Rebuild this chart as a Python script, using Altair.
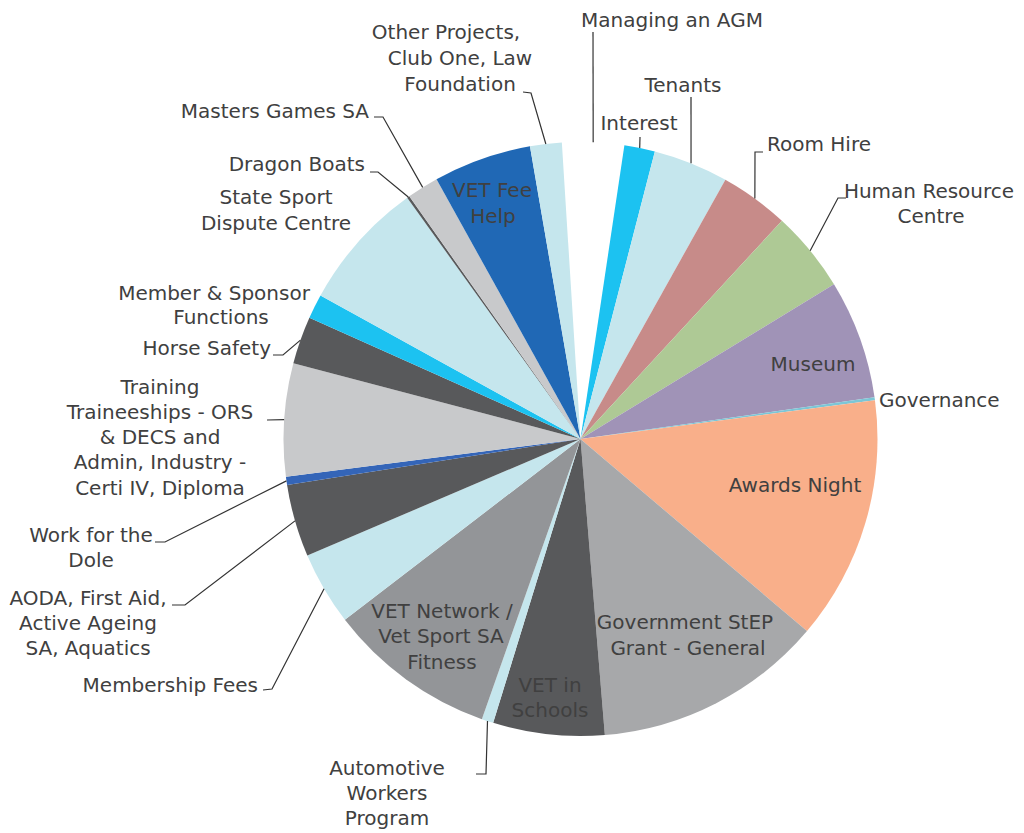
import math
import altair as alt
import pandas as pd

# ---------------- data (in degrees of the pie) ----------------
categories = [
    "Managing an AGM", "Interest", "Tenants", "Room Hire", "Human Resource Centre",
    "Museum", "Governance", "Awards Night", "Government StEP Grant - General",
    "VET in Schools", "Automotive Workers Program", "VET Network / Vet Sport SA Fitness",
    "Membership Fees", "AODA, First Aid, Active Ageing SA, Aquatics", "Work for the Dole",
    "Training Traineeships - ORS & DECS and Admin, Industry - Certi IV, Diploma",
    "Horse Safety", "Member & Sponsor Functions", "State Sport Dispute Centre",
    "Dragon Boats", "Masters Games SA", "VET Fee Help",
    "Other Projects, Club One, Law Foundation",
]
values = [12.1, 6.0, 14.7, 13.5, 15.9, 23.3, 0.6, 47.8, 45.0, 21.8, 2.3, 33.1,
          14.4, 14.2, 1.6, 22.1, 9.3, 4.8, 25.4, 0.5, 6.2, 19.2, 6.2]
colors = ["#FFFFFF", "#1CC2F1", "#C5E6ED", "#C78B89", "#AEC995", "#A093B7", "#7CC6D6",
          "#F9AF8A", "#A7A8AA", "#58595B", "#C5E6ED", "#939598", "#C5E6ED", "#58595B",
          "#3465B8", "#C8C9CB", "#58595B", "#1CC2F1", "#C5E6ED", "#58595B", "#C8C9CB",
          "#2068B5", "#C5E6ED"]

# ---------------- layout ----------------
OFF = 8                      # page margin
CX, CY, R = 580.5, 439.0, 297.0
START_DEG = -3.6
FONT = "DejaVu Sans"
FS = 20
TXT = "#404040"

# label lines: (category index, text, x, y, align)
label_lines = [
    (0, "Managing an AGM", 672, 21, "center"),
    (1, "Interest", 639, 124, "center"),
    (2, "Tenants", 683, 86, "center"),
    (3, "Room Hire", 767, 145, "left"),
    (4, "Human Resource", 929, 192, "center"),
    (4, "Centre", 931, 217, "center"),
    (5, "Museum", 813, 365, "center"),
    (6, "Governance", 879, 401, "left"),
    (7, "Awards Night", 795, 486, "center"),
    (8, "Government StEP", 685, 623, "center"),
    (8, "Grant - General", 688, 649, "center"),
    (9, "VET in", 550, 686, "center"),
    (9, "Schools", 550, 711, "center"),
    (10, "Automotive", 387, 769, "center"),
    (10, "Workers", 387, 794, "center"),
    (10, "Program", 387, 819, "center"),
    (11, "VET Network /", 442, 612, "center"),
    (11, "Vet Sport SA", 441, 637, "center"),
    (11, "Fitness", 442, 663, "center"),
    (12, "Membership Fees", 258, 686, "right"),
    (13, "AODA, First Aid,", 88, 599, "center"),
    (13, "Active Ageing", 88, 624, "center"),
    (13, "SA, Aquatics", 88, 649, "center"),
    (14, "Work for the", 91, 536, "center"),
    (14, "Dole", 91, 561, "center"),
    (15, "Training", 160, 388, "center"),
    (15, "Traineeships - ORS", 160, 413, "center"),
    (15, "& DECS and", 160, 438, "center"),
    (15, "Admin, Industry -", 160, 463, "center"),
    (15, "Certi IV, Diploma", 160, 489, "center"),
    (16, "Horse Safety", 271, 349, "right"),
    (17, "Member & Sponsor", 214, 294, "center"),
    (17, "Functions", 221, 318, "center"),
    (18, "State Sport", 276, 198, "center"),
    (18, "Dispute Centre", 276, 224, "center"),
    (19, "Dragon Boats", 365, 165, "right"),
    (20, "Masters Games SA", 369, 112, "right"),
    (21, "VET Fee", 492, 191, "center"),
    (21, "Help", 493, 217, "center"),
    (22, "Other Projects,", 446, 33, "center"),
    (22, "Club One, Law", 460, 59, "center"),
    (22, "Foundation", 460, 85, "center"),
]

# leader line bends / ends for outside labels: category index -> list of points
leader_points = {
    0: [(593, 32)],
    1: [(640, 137)],
    2: [(691, 97)],
    3: [(755, 152), (763, 152)],
    4: [(838, 198), (846, 198)],
    10: [(486, 774), (476, 774)],
    12: [(272, 689), (263, 690)],
    13: [(185, 605), (172, 605)],
    14: [(165, 542), (155, 542)],
    15: [(267, 420)],
    16: [(283, 355), (273, 355)],
    19: [(378, 172), (370, 172)],
    20: [(383, 117), (374, 117)],
    22: [(531, 93), (523, 92)],
}

# ---------------- tables ----------------
df = pd.DataFrame({
    "cat": categories, "value": values, "col": colors, "idx": list(range(len(values)))
})
total = float(sum(values))
start = math.radians(START_DEG)

rows = []
cum = 0.0
for i, v in enumerate(values):
    mid = start + (cum + v / 2.0) / total * 2 * math.pi
    cum += v
    if i in leader_points:
        sx = CX + R * math.sin(mid)
        sy = CY - R * math.cos(mid)
        pts = [(sx, sy)] + leader_points[i]
        for k, (px, py) in enumerate(pts):
            rows.append({"cat": categories[i], "k": k, "px": px - OFF, "py": py - OFF})
lines_df = pd.DataFrame(rows)

lab_df = pd.DataFrame([
    {"cat": categories[i], "t": t, "px": x - OFF, "py": y - OFF, "al": a}
    for (i, t, x, y, a) in label_lines
])

# ---------------- chart ----------------
pie = alt.Chart(df).mark_arc(outerRadius=R, strokeWidth=0).encode(
    theta=alt.Theta("value:Q", stack=True,
                    scale=alt.Scale(range=[start, start + 2 * math.pi])),
    order=alt.Order("idx:Q"),
    color=alt.Color("col:N", scale=None),
    x=alt.value(CX - OFF),
    y=alt.value(CY - OFF),
)

leaders = alt.Chart(lines_df).mark_line(color="#333333", strokeWidth=1.2).encode(
    x=alt.X("px:Q", scale=None, axis=None),
    y=alt.Y("py:Q", scale=None, axis=None),
    detail="cat:N",
    order="k:Q",
)

def text_layer(align):
    return alt.Chart(lab_df).transform_filter(
        alt.datum.al == align
    ).mark_text(font=FONT, fontSize=FS, color=TXT, align=align, baseline="middle").encode(
        x=alt.X("px:Q", scale=None, axis=None),
        y=alt.Y("py:Q", scale=None, axis=None),
        text="t:N",
    )

chart = alt.layer(
    pie, leaders, text_layer("left"), text_layer("center"), text_layer("right")
).properties(
    width=1008, height=825, padding=0,
    autosize=alt.AutoSizeParams(type="none"),
).configure_view(stroke=None)

chart.save("out.html", embed_options={"renderer": "svg", "actions": False})
